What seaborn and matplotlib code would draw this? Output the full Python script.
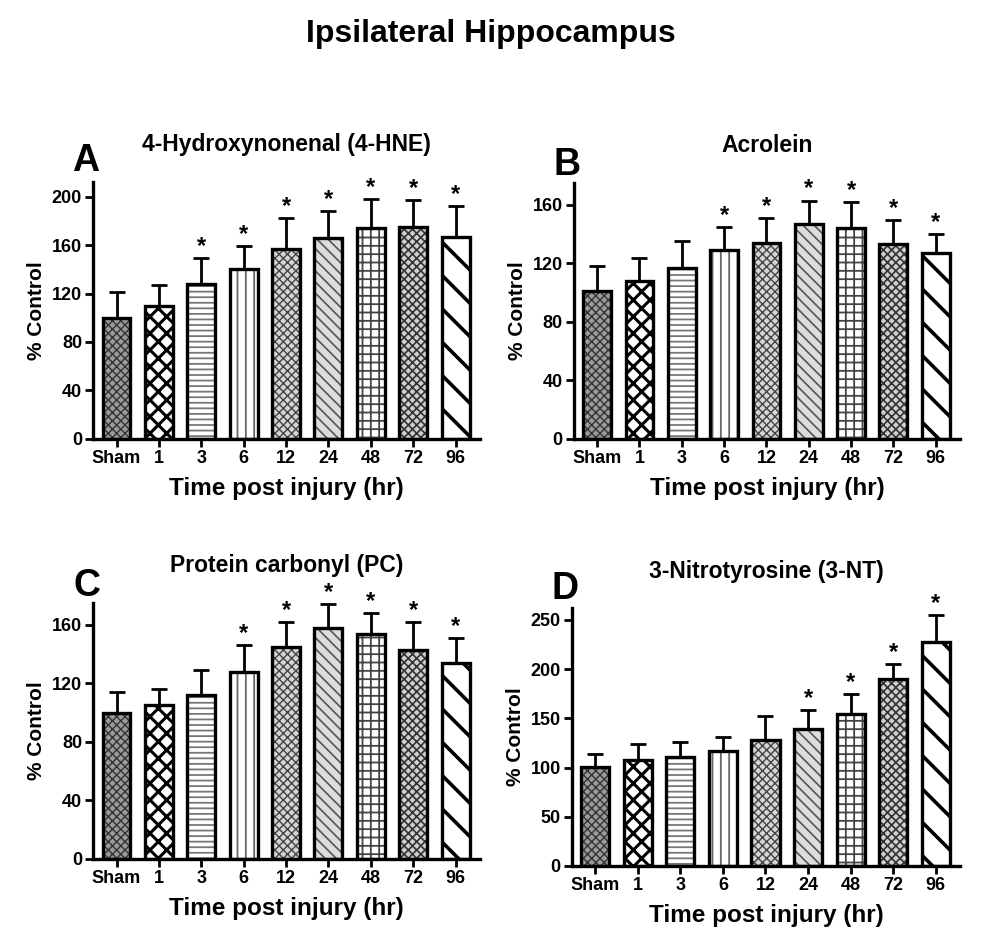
import numpy as np
import pandas as pd
import matplotlib
matplotlib.use('Agg')
import matplotlib.pyplot as plt
import seaborn as sns
from matplotlib.patches import Rectangle

times = ['Sham', '1', '3', '6', '12', '24', '48', '72', '96']

# 4-HNE
hne_mean = [100, 110, 128, 140, 157, 166, 174, 175, 167]
hne_sem = [21, 17, 21, 19, 25, 22, 24, 22, 25]
hne_sig = [0, 0, 1, 1, 1, 1, 1, 1, 1]

# Acrolein
acr_mean = [101, 108, 117, 129, 134, 147, 144, 133, 127]
acr_sem = [17, 16, 18, 16, 17, 16, 18, 17, 13]
acr_sig = [0, 0, 0, 1, 1, 1, 1, 1, 1]

# Protein carbonyl
pc_mean = [100, 105, 112, 128, 145, 158, 154, 143, 134]
pc_sem = [14, 11, 17, 18, 17, 16, 14, 19, 17]
pc_sig = [0, 0, 0, 1, 1, 1, 1, 1, 1]

# 3-NT
nt_mean = [101, 108, 111, 117, 128, 139, 154, 190, 228]
nt_sem = [13, 16, 15, 14, 24, 19, 21, 15, 27]
nt_sig = [0, 0, 0, 0, 0, 1, 1, 1, 1]

# fill / hatch / hatch colour / hatch width for each time point
bar_styles = [
    ('#9a9a9a', 'xxxx', '#333333', 1.0),
    ('white', 'xx', 'black', 2.2),
    ('white', '---', '#777777', 1.3),
    ('white', '||', '#666666', 1.3),
    ('#d5d5d5', 'xxxx', '#444444', 1.0),
    ('#dddddd', '\\\\\\', '#555555', 1.2),
    ('white', '++', '#444444', 1.3),
    ('#cfcfcf', 'xxxx', '#333333', 1.2),
    ('white', '\\', 'black', 2.6),
]

sns.set_style('ticks')
plt.rcParams['font.family'] = ['Liberation Sans', 'DejaVu Sans']
for key in ['text.color', 'axes.labelcolor', 'xtick.color', 'ytick.color', 'axes.edgecolor']:
    plt.rcParams[key] = 'black'


def draw_panel(ax, means, sems, sig, title, letter, letter_xy, ylim, yticks):
    df = pd.DataFrame({'time': times, 'value': means})
    sns.barplot(data=df, x='time', y='value', order=times, color='white',
                width=0.66, errorbar=None, ax=ax, zorder=2)
    for patch, (fc, hatch, hc, hlw) in zip(ax.patches[:len(times)], bar_styles):
        x, y = patch.get_x(), patch.get_y()
        w, h = patch.get_width(), patch.get_height()
        patch.set_facecolor(fc)
        patch.set_edgecolor(fc)
        patch.set_linewidth(0)
        with plt.rc_context({'hatch.linewidth': hlw}):
            hp = Rectangle((x, y), w, h, fill=False, hatch=hatch, edgecolor=hc,
                           linewidth=0, zorder=2.5)
        if hasattr(hp, 'set_hatch_linewidth'):
            hp.set_hatch_linewidth(hlw)
        ax.add_patch(hp)
        ax.add_patch(Rectangle((x, y), w, h, fill=False, edgecolor='black',
                               linewidth=2.4, zorder=3))
    xs = np.arange(len(times))
    ax.errorbar(xs, means, yerr=[np.zeros(len(times)), sems], fmt='none',
                ecolor='black', elinewidth=2, capsize=6, capthick=2, zorder=4)
    for xi, m, s, flag in zip(xs, means, sems, sig):
        if flag:
            ax.annotate('*', (xi, m + s), xytext=(0, 0), textcoords='offset points',
                        ha='center', va='bottom', fontsize=17, fontweight='bold')
    ax.set_xlim(-0.55, 8.57)
    ax.set_ylim(*ylim)
    ax.set_yticks(yticks)
    ax.set_xlabel('Time post injury (hr)', fontsize=17.5, fontweight='bold', labelpad=7)
    ax.set_ylabel('% Control', fontsize=15, fontweight='bold', labelpad=4)
    ax.set_title(title, fontsize=16.5, fontweight='bold', pad=22)
    for lab in ax.get_xticklabels() + ax.get_yticklabels():
        lab.set_fontweight('bold')
        lab.set_fontsize(13)
    ax.tick_params(axis='both', width=2, length=6, pad=2)
    for side in ['left', 'bottom']:
        ax.spines[side].set_linewidth(2.4)
    sns.despine(ax=ax)
    ax.text(letter_xy[0], letter_xy[1], letter, transform=ax.transAxes, fontsize=27,
            fontweight='bold', ha='center', va='center')


fig = plt.figure(figsize=(9.81, 9.48), dpi=100)
axA = fig.add_axes([0.095, 0.537, 0.394, 0.271])
axB = fig.add_axes([0.585, 0.537, 0.3935, 0.270])
axC = fig.add_axes([0.095, 0.094, 0.394, 0.270])
axD = fig.add_axes([0.583, 0.0865, 0.3955, 0.272])

draw_panel(axA, hne_mean, hne_sem, hne_sig, '4-Hydroxynonenal (4-HNE)', 'A',
           (-0.02, 1.08), (0, 212), [0, 40, 80, 120, 160, 200])
draw_panel(axB, acr_mean, acr_sem, acr_sig, 'Acrolein', 'B',
           (-0.018, 1.07), (0, 175), [0, 40, 80, 120, 160])
draw_panel(axC, pc_mean, pc_sem, pc_sig, 'Protein carbonyl (PC)', 'C',
           (-0.016, 1.066), (0, 175), [0, 40, 80, 120, 160])
draw_panel(axD, nt_mean, nt_sem, nt_sig, '3-Nitrotyrosine (3-NT)', 'D',
           (-0.018, 1.076), (0, 262), [0, 50, 100, 150, 200, 250])

fig.suptitle('Ipsilateral Hippocampus', fontsize=23, fontweight='bold', y=0.98)

plt.savefig('out.png', dpi=100)
